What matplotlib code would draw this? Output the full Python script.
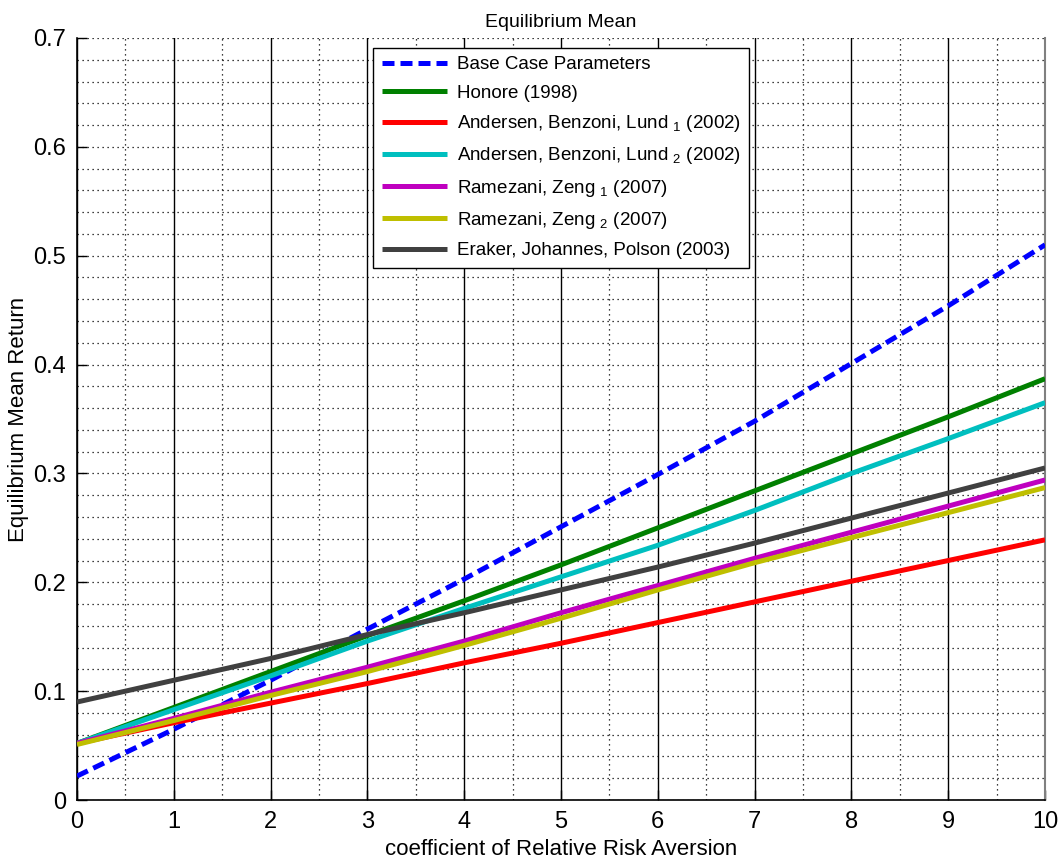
import matplotlib
matplotlib.use("Agg")
import matplotlib.pyplot as plt
import numpy as np
from matplotlib.ticker import MultipleLocator, FuncFormatter

plt.rcParams['font.family'] = ['Liberation Sans', 'DejaVu Sans']
plt.rcParams['mathtext.fontset'] = 'custom'
plt.rcParams['mathtext.rm'] = 'Liberation Sans'
plt.rcParams['mathtext.it'] = 'Liberation Sans'

gamma = [0, 1, 2, 3, 4, 5, 6, 7, 8, 9, 10]
base_case = [0.022, 0.065, 0.110, 0.157, 0.203, 0.251, 0.299, 0.348, 0.401, 0.454, 0.510]
honore = [0.052, 0.085, 0.118, 0.151, 0.183, 0.216, 0.250, 0.284, 0.318, 0.352, 0.387]
abl1 = [0.052, 0.071, 0.089, 0.107, 0.126, 0.144, 0.163, 0.182, 0.201, 0.220, 0.239]
abl2 = [0.052, 0.083, 0.114, 0.146, 0.176, 0.205, 0.234, 0.266, 0.300, 0.332, 0.365]
rz1 = [0.052, 0.075, 0.099, 0.122, 0.146, 0.172, 0.197, 0.222, 0.246, 0.270, 0.294]
rz2 = [0.051, 0.073, 0.096, 0.118, 0.142, 0.167, 0.193, 0.218, 0.241, 0.264, 0.287]
ejp = [0.090, 0.110, 0.130, 0.152, 0.172, 0.193, 0.214, 0.236, 0.259, 0.282, 0.305]

labels = [
    "Base Case Parameters",
    "Honore (1998)",
    "Andersen, Benzoni, Lund $_{1}$ (2002)",
    "Andersen, Benzoni, Lund $_{2}$ (2002)",
    "Ramezani, Zeng $_{1}$ (2007)",
    "Ramezani, Zeng $_{2}$ (2007)",
    "Eraker, Johannes, Polson (2003)",
]
colors = ["#0000ff", "#008000", "#ff0000", "#00bfbf", "#bf00bf", "#bfbf00", "#404040"]

fig = plt.figure(figsize=(10.61, 8.63), dpi=100)
ax = fig.add_axes([0.0726, 0.073, 0.9124, 0.883])

series = [base_case, honore, abl1, abl2, rz1, rz2, ejp]
for i, (ys, lab, c) in enumerate(zip(series, labels, colors)):
    ls = (0, (2.4, 1.2)) if i == 0 else '-'
    ax.plot(gamma, ys, color=c, lw=3.6, ls=ls, label=lab, zorder=3,
            solid_capstyle='butt', dash_capstyle='butt')

ax.set_xlim(0, 10)
ax.set_ylim(0, 0.7)
ax.xaxis.set_major_locator(MultipleLocator(1))
ax.xaxis.set_minor_locator(MultipleLocator(0.5))
ax.yaxis.set_major_locator(MultipleLocator(0.1))
ax.yaxis.set_minor_locator(MultipleLocator(0.02))
ax.yaxis.set_major_formatter(FuncFormatter(lambda v, p: "0" if abs(v) < 1e-9 else f"{v:.1f}"))

ax.grid(True, which='major', axis='x', color='black', lw=1.0, ls='-')
ax.grid(True, which='minor', axis='x', color='black', lw=0.9, ls=(0, (1, 3)))
ax.grid(True, which='both', axis='y', color='black', lw=0.9, ls=(0, (1, 3)))
ax.set_axisbelow(True)

ax.tick_params(which='major', direction='in', length=7, width=1, labelsize=17,
               top=False, right=False, pad=8)
ax.tick_params(which='minor', length=0)
ax.spines['top'].set_visible(False)
ax.spines['right'].set_color('#808080')
ax.spines['right'].set_linewidth(1.5)
for s in ['left', 'bottom']:
    ax.spines[s].set_color('black')
    ax.spines[s].set_linewidth(1.2)

ax.set_title("Equilibrium Mean", fontsize=14, pad=8)
ax.set_xlabel("coefficient of Relative Risk Aversion", fontsize=16, labelpad=4)
ax.set_ylabel("Equilibrium Mean Return", fontsize=16)
ax.yaxis.set_label_coords(-0.05, 0.5)

leg = ax.legend(loc='upper left', bbox_to_anchor=(0.306, 0.987), fontsize=13.5,
                frameon=True, fancybox=False, framealpha=1, edgecolor='black',
                handlelength=3.5, handletextpad=0.5, labelspacing=0.6,
                borderpad=0.45, borderaxespad=0)
leg.get_frame().set_linewidth(1.0)

fig.savefig("out.png", dpi=100)
